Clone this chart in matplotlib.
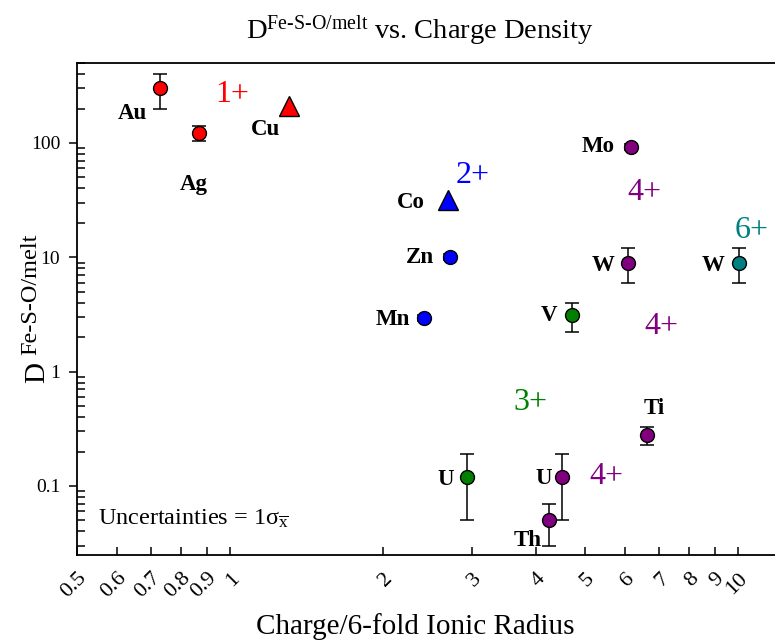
import matplotlib
matplotlib.use("Agg")
import matplotlib.pyplot as plt
from matplotlib.ticker import LogLocator, NullFormatter, FixedLocator

plt.rcParams['font.family'] = ['Liberation Serif', 'DejaVu Serif']
plt.rcParams['mathtext.fontset'] = 'custom'
plt.rcParams['mathtext.rm'] = 'Liberation Serif'
plt.rcParams['mathtext.it'] = 'Liberation Serif:italic'
plt.rcParams['mathtext.bf'] = 'Liberation Serif:bold'

# data
elements = ['Au', 'Ag', 'Cu', 'Co', 'Zn', 'Mn', 'V', 'Mo', 'W', 'W', 'Ti', 'U', 'U', 'Th']
charge_density = [0.73, 0.87, 1.31, 2.69, 2.71, 2.41, 4.71, 6.16, 6.08, 10.05, 6.62, 2.93, 4.50, 4.25]
D = [300, 122, 212, 31.5, 10.0, 2.95, 3.1, 92, 9.0, 9.0, 0.28, 0.12, 0.12, 0.05]
D_err = [100, 19, 0, 0, 0.6, 0.2, 0.9, 5, 3.0, 3.0, 0.05, 0.07, 0.07, 0.02]
valence = ['1+', '1+', '1+', '2+', '2+', '2+', '3+', '4+', '4+', '6+', '4+', '3+', '4+', '4+']
shape = ['o', 'o', '^', '^', 'o', 'o', 'o', 'o', 'o', 'o', 'o', 'o', 'o', 'o']

valence_colors = {'1+': '#ff0000', '2+': '#0000ff', '3+': '#008000', '4+': '#800080', '6+': '#008080'}

# label offsets (pixels) from each point
label_offsets = [(-28, -25), (-5, -51), (-24, -24), (-37, -2), (-30, 0), (-31, -2), (-23, 0),
                 (-33, 1), (-25, -3), (-26, -3), (7, 26), (-21, -3), (-18, -2), (-22, -20)]

# valence group labels: (text, x, y)
group_labels = [('1+', 1.01, 263), ('2+', 3.01, 52), ('4+', 6.56, 36.6), ('6+', 10.66, 17.3),
                ('4+', 7.06, 2.46), ('3+', 3.90, 0.54), ('4+', 5.52, 0.12)]

x_ticks = [0.5, 0.6, 0.7, 0.8, 0.9, 1, 2, 3, 4, 5, 6, 7, 8, 9, 10]
x_ticklabels = ['0.5', '0.6', '0.7', '0.8', '0.9', '1', '2', '3', '4', '5', '6', '7', '8', '9', '10']

fig = plt.figure(figsize=(7.75, 6.42), dpi=100)
ax = fig.add_axes([77/775, 87/642, 698/775, 492/642])

for i in range(len(elements)):
    c = valence_colors[valence[i]]
    if D_err[i] > 0:
        ax.errorbar(charge_density[i], D[i], yerr=D_err[i], fmt='none', ecolor='black',
                    elinewidth=1.1, capsize=5, capthick=1.1, zorder=2)
    ms = 15 if shape[i] == '^' else 10
    ax.plot(charge_density[i], D[i], marker=shape[i], color=c, markersize=ms,
            markeredgecolor='black', markeredgewidth=1.0, linestyle='none', zorder=3)
    ax.annotate(elements[i], (charge_density[i], D[i]), xytext=label_offsets[i],
                textcoords='offset pixels', ha='center', va='center',
                fontsize=16.5, fontweight='bold')

for txt, gx, gy in group_labels:
    ax.text(gx, gy, txt, color=valence_colors[txt], fontsize=23, ha='center', va='center')

ax.set_xscale('log')
ax.set_yscale('log')
ax.set_xlim(0.5, 11.83)
ax.set_ylim(0.0249, 500)

ax.xaxis.set_major_locator(FixedLocator(x_ticks))
ax.set_xticklabels(x_ticklabels, rotation=45, ha='right', rotation_mode='anchor')
ax.xaxis.set_minor_locator(FixedLocator([]))
ax.tick_params(axis='x', which='major', direction='in', length=6, width=1.1,
               labelsize=16, pad=10)

ax.yaxis.set_major_locator(LogLocator(base=10, numticks=10))
ax.yaxis.set_minor_locator(LogLocator(base=10, subs=range(2, 10), numticks=20))
ax.yaxis.set_minor_formatter(NullFormatter())
ax.set_yticks([0.1, 1, 10, 100])
ax.set_yticklabels(['0.1', '1', '10', '100'])
ax.tick_params(axis='y', which='major', direction='out', length=6, width=1.1,
               labelsize=14, pad=6)
ax.tick_params(axis='y', which='minor', direction='in', length=6, width=1.1)

for s in ['left', 'bottom', 'top']:
    ax.spines[s].set_linewidth(1.3)
ax.spines['right'].set_visible(False)

ax.set_xlabel('Charge/6-fold Ionic Radius', fontsize=21)
ax.xaxis.set_label_coords(0.484, -0.118)

# y label: "D" with a raised, slightly smaller "Fe-S-O/melt"
ax.text(-0.057, 0.370, 'D', transform=ax.transAxes, rotation=90,
        fontsize=21, ha='center', va='center')
ax.text(-0.066, 0.530, 'Fe-S-O/melt', transform=ax.transAxes, rotation=90,
        fontsize=17.5, ha='center', va='center')

fig.text(0.542, 1 - 30/642, r'D$^{\text{Fe-S-O/melt}}$ vs. Charge Density',
         fontsize=20.5, ha='center', va='center')

ax.text(0.03, 0.073, r'Uncertainties = 1$\mathrm{\sigma}_{\overline{\mathrm{x}}}$',
        transform=ax.transAxes, fontsize=17.5, ha='left', va='center')

fig.savefig('out.png', dpi=100)
